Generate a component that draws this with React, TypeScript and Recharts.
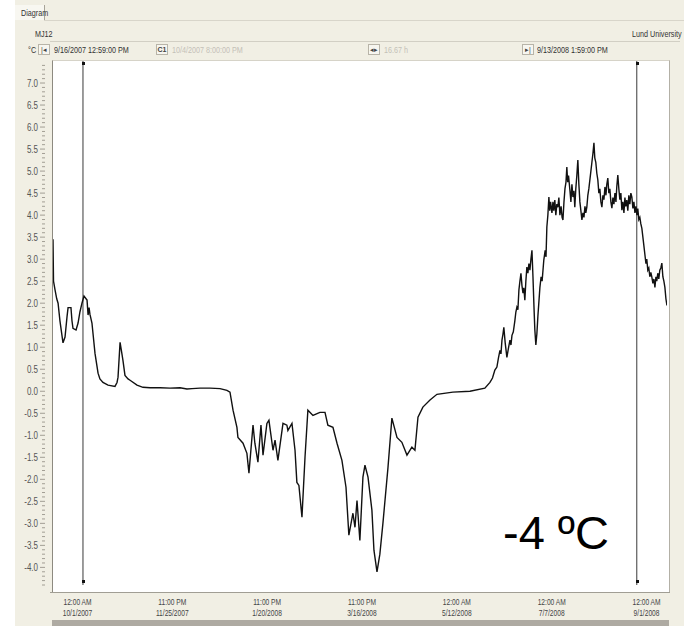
import { LineChart, Line, XAxis, YAxis, ReferenceLine } from 'recharts';

// days since 9/16/2007 12:59 PM
const days = [
  0, 0.3, 1.2, 2.2, 3.0, 4.1, 5.9, 7.1, 8.3, 8.9, 10.6, 11.2, 11.8, 13.6, 14.8, 15.9, 17.1, 18.3, 19.5, 20.1,
  20.7, 21.3, 21.8, 23.0, 24.8, 26.6, 27.7, 29.5, 32.5, 36.6, 37.8, 38.4, 39.6, 40.7, 41.3, 42.5, 44.3, 45.5, 49.6, 53.1,
  57.3, 63.2, 69.1, 75.0, 79.1, 82.1, 86.8, 92.7, 98.6, 102.7, 104.5, 106.3, 108.6, 109.2, 112.2, 114.5, 115.7, 118.1, 119.2, 121.0,
  122.8, 124.0, 126.3, 127.5, 129.9, 131.1, 132.8, 135.8, 138.1, 138.7, 141.1, 142.9, 144.0, 145.2, 147.0, 148.8, 150.5, 153.5, 157.6, 160.6,
  162.3, 165.3, 167.7, 170.6, 173.0, 174.7, 177.1, 178.3, 179.5, 181.2, 183.0, 184.2, 186.0, 188.3, 189.5, 191.3, 193.0, 194.8, 197.8, 200.1,
  203.1, 206.0, 209.0, 211.9, 213.7, 215.5, 218.4, 222.6, 226.7, 236.1, 246.2, 255.0, 258.0, 259.5, 260.9, 262.1, 263.0, 263.9, 264.5, 265.1,
  265.7, 266.2, 267.0, 268.0, 268.8, 269.8, 270.4, 271.0, 271.8, 272.7, 273.3, 273.9, 274.5, 275.1, 275.7, 276.3, 276.9, 277.5, 278.0, 278.6,
  279.2, 279.8, 280.4, 281.0, 281.6, 282.2, 282.8, 283.4, 284.0, 284.5, 285.1, 285.7, 286.3, 287.5, 288.2, 288.8, 289.8, 290.6, 291.1, 291.6,
  292.2, 292.8, 293.3, 293.8, 294.6, 295.2, 295.7, 296.3, 296.9, 297.5, 298.1, 298.7, 299.3, 300.0, 300.6, 301.1, 301.7, 302.3, 302.9, 303.4,
  303.9, 304.4, 305.2, 305.8, 306.4, 307.0, 307.6, 308.1, 308.7, 309.3, 309.9, 310.5, 311.1, 311.7, 312.3, 312.9, 313.5, 314.1, 314.6, 315.2,
  315.8, 316.4, 317.0, 317.6, 318.2, 318.8, 319.4, 319.9, 320.5, 321.1, 321.7, 322.3, 322.9, 323.5, 324.1, 324.7, 325.3, 325.9, 326.5, 327.0,
  327.6, 328.2, 328.8, 329.4, 330.0, 330.6, 331.2, 331.8, 332.4, 332.9, 333.5, 334.1, 334.7, 335.3, 335.9, 336.5, 337.1, 337.7, 338.2, 338.8,
  339.4, 340.0, 340.6, 341.2, 341.8, 342.4, 343.0, 343.6, 344.2, 344.8, 345.3, 345.9, 346.5, 347.1, 347.7, 348.3, 348.9, 349.5, 350.1, 350.6,
  351.2, 351.8, 352.4, 353.0, 353.6, 354.2, 354.8, 355.4, 356.0, 356.5, 357.1, 357.7, 358.3, 358.9, 359.5, 360.1, 360.7, 361.3, 361.9, 362.5,
];

// temperature, °C
const temps = [
  3.45, 2.5, 2.3, 2.1, 2.0, 1.6, 1.1, 1.23, 1.7, 1.9, 1.9, 1.6, 1.43, 1.39, 1.55, 1.8, 2.0, 2.16, 2.1, 2.07,
  1.73, 1.9, 1.75, 1.55, 0.86, 0.41, 0.28, 0.2, 0.14, 0.11, 0.2, 0.32, 1.11, 0.85, 0.7, 0.36, 0.28, 0.25, 0.14, 0.09,
  0.08, 0.08, 0.07, 0.08, 0.05, 0.06, 0.07, 0.07, 0.06, 0.02, -0.02, -0.43, -0.82, -1.05, -1.18, -1.41, -1.86, -0.77, -1.18, -1.61,
  -0.77, -1.45, -0.73, -0.66, -1.34, -1.11, -1.57, -0.73, -0.77, -0.89, -0.73, -1.34, -2.07, -2.14, -2.86, -1.5, -0.43, -0.55, -0.48, -0.48,
  -0.77, -0.82, -1.18, -1.57, -2.18, -3.27, -2.77, -3.09, -2.48, -3.39, -1.95, -1.68, -1.95, -2.7, -3.61, -4.1, -3.7, -3.0, -1.73, -0.61,
  -1.05, -1.16, -1.45, -1.27, -1.34, -0.59, -0.36, -0.2, -0.07, -0.02, 0.0, 0.07, 0.2, 0.3, 0.48, 0.55, 0.75, 0.93, 0.85, 1.16,
  1.3, 1.45, 1.1, 0.77, 0.95, 1.16, 1.05, 1.27, 1.35, 1.6, 1.8, 1.91, 1.85, 2.3, 2.5, 2.68, 2.4, 2.23, 2.35, 2.07,
  2.5, 2.82, 2.68, 2.9, 2.75, 3.0, 3.2, 2.6, 1.91, 1.4, 1.05, 1.3, 1.7, 2.36, 2.6, 2.5, 2.98, 3.2, 3.05, 3.73,
  4.0, 4.41, 4.1, 4.3, 4.05, 4.3, 4.1, 4.34, 4.0, 4.25, 4.18, 4.4, 4.0, 4.2, 3.95, 3.89, 4.3, 4.6, 4.75, 5.09,
  4.75, 4.9, 4.57, 4.3, 4.7, 4.41, 4.55, 4.18, 4.6, 4.9, 5.25, 4.7, 4.3, 4.1, 3.89, 4.05, 3.95, 4.2, 4.05, 4.18,
  4.45, 4.6, 4.8, 5.0, 5.2, 5.4, 5.64, 5.3, 5.2, 4.95, 4.8, 4.5, 4.6, 4.3, 4.18, 4.45, 4.35, 4.64, 4.45, 4.7,
  4.84, 4.5, 4.6, 4.3, 4.16, 4.4, 4.25, 4.5, 4.3, 4.65, 4.91, 4.6, 4.35, 4.5, 4.11, 4.3, 4.05, 4.4, 4.2, 4.34,
  4.1, 4.45, 4.25, 4.5, 4.41, 4.15, 4.3, 4.05, 4.2, 4.0, 4.15, 3.9, 3.95, 3.8, 3.7, 3.5, 3.3, 3.1, 2.9, 3.0,
  2.75, 2.8, 2.6, 2.7, 2.59, 2.45, 2.55, 2.36, 2.6, 2.5, 2.68, 2.55, 2.75, 2.8, 2.91, 2.6, 2.5, 2.36, 2.1, 1.95,
];

const tickDays = [14.46, 70.42, 126.42, 182.42, 238.46, 294.46, 350.46];
const tickTimes = ['12:00 AM', '11:00 PM', '11:00 PM', '11:00 PM', '12:00 AM', '12:00 AM', '12:00 AM'];
const tickDates = ['10/1/2007', '11/25/2007', '1/20/2008', '3/16/2008', '5/12/2008', '7/7/2008', '9/1/2008'];

// tenths of a degree, labelled every 0.5
const yTicks = Array.from({ length: 119 }, (_, i) => (i - 44) / 10);

const cursorDays = [17.7, 344.7];

const data = days.map((d, i) => ({ day: d, temp: temps[i] }));

const FONT = '"Liberation Sans", Arial, sans-serif';

const YTick = ({ x, y, payload }: any) => {
  const tenth = Math.round(payload.value * 10);
  const major = tenth % 5 === 0;
  return (
    <g>
      <line x1={x - (major ? 5 : 3)} x2={x} y1={y} y2={y} stroke="#a29e94" strokeWidth={1} />
      {major && (
        <g transform={`translate(${x - 7},${y + 3.5}) scale(0.8,1)`}>
          <text x={0} y={0} textAnchor="end" fontSize={10} fill="#555" fontFamily={FONT}>
            {(tenth / 10).toFixed(1)}
          </text>
        </g>
      )}
    </g>
  );
};

const XTick = ({ x, index }: any) => (
  <g transform={`translate(${x},0) scale(0.7,1)`}>
    <text x={0} y={605} textAnchor="middle" fontSize={9.5} fill="#444" fontFamily={FONT}>
      {tickTimes[index]}
    </text>
    <text x={0} y={616} textAnchor="middle" fontSize={9.5} fill="#444" fontFamily={FONT}>
      {tickDates[index]}
    </text>
  </g>
);

const Label = ({ left, top, color = '#333', bold = false, children }: any) => (
  <div
    style={{
      position: 'absolute', left, top, fontSize: 9, fontFamily: FONT, color, whiteSpace: 'nowrap',
      fontWeight: bold ? 'bold' : 'normal', transform: 'scaleX(0.8)', transformOrigin: 'left top', lineHeight: '10px',
    }}
  >
    {children}
  </div>
);

const Btn = ({ left, children }: any) => (
  <div
    style={{
      position: 'absolute', left, top: 44, width: 10, height: 9, border: '1px solid #b8b4a8', background: '#f7f6f0',
      fontSize: 7, lineHeight: '9px', textAlign: 'center', fontFamily: FONT, color: '#444',
    }}
  >
    {children}
  </div>
);

export default function App() {
  return (
    <div style={{ position: 'absolute', left: 0, top: 0, width: 693, height: 626, background: '#fff', overflow: 'hidden' }}>
      {/* window panel */}
      <div style={{ position: 'absolute', left: 15, top: 0, width: 669, height: 626, background: '#f1efe4' }} />
      {/* tab */}
      <div style={{ position: 'absolute', left: 15, top: 5, width: 29, height: 15, borderRight: '1px solid #a7a397', background: '#f8f7f1' }} />
      <Label left={21} top={8}>Diagram</Label>
      <div style={{ position: 'absolute', left: 44, top: 20, width: 640, height: 1, background: '#d8d5ca' }} />
      {/* header */}
      <Label left={35} top={29}>MJ12</Label>
      <Label left={632} top={29}>Lund University</Label>
      <div style={{ position: 'absolute', left: 50, top: 41, width: 630, height: 1, background: '#d2cfc4' }} />
      <Label left={28} top={45}>°C</Label>
      <Btn left={38}>|◂</Btn>
      <Label left={54} top={45}>9/16/2007 12:59:00 PM</Label>
      <Btn left={156}><b>C1</b></Btn>
      <Label left={172} top={45} color="#c4c1b8">10/4/2007 8:00:00 PM</Label>
      <Btn left={368}>◂▸</Btn>
      <Label left={384} top={45} color="#c4c1b8">16.67 h</Label>
      <Btn left={522}>▸|</Btn>
      <Label left={537} top={45}>9/13/2008 1:59:00 PM</Label>
      {/* plot frame */}
      <div style={{ position: 'absolute', left: 52, top: 60, width: 616, height: 532, background: '#fff', borderLeft: '1px solid #8d8a80', borderRight: '1px solid #b3b0a6', borderTop: '1px solid #d6d3c8' }} />
      <div style={{ position: 'absolute', left: 50, top: 592, width: 620, height: 1, background: '#a19e94' }} />
      <div style={{ position: 'absolute', left: 52, top: 620, width: 617, height: 6, background: '#aeaaa2' }} />

      <div style={{ position: 'absolute', left: 0, top: 0 }}>
        <LineChart width={693} height={626} data={data} margin={{ top: 61, right: 26, left: 15, bottom: 6 }}>
          <XAxis
            dataKey="day"
            type="number"
            domain={[0, 362.54]}
            ticks={tickDays}
            tick={<XTick />}
            tickLine={false}
            axisLine={false}
            height={35}
            allowDataOverflow
          />
          <YAxis
            type="number"
            domain={[-4.4, 7.5]}
            ticks={yTicks}
            interval={0}
            tick={<YTick />}
            tickLine={false}
            axisLine={false}
            width={38}
            allowDataOverflow
          />
          {cursorDays.map((d) => (
            <ReferenceLine key={d} x={d} stroke="#3a3a3a" strokeWidth={1} />
          ))}
          <Line
            type="linear"
            dataKey="temp"
            stroke="#111"
            strokeWidth={1.4}
            dot={false}
            isAnimationActive={false}
          />
        </LineChart>
      </div>

      {/* cursor end markers */}
      {[83, 637].map((x) => (
        <div key={x}>
          <div style={{ position: 'absolute', left: x - 1, top: 62, width: 3, height: 3, background: '#111' }} />
          <div style={{ position: 'absolute', left: x - 1, top: 580, width: 3, height: 3, background: '#111' }} />
        </div>
      ))}

      <div style={{ position: 'absolute', left: 503, top: 505, fontSize: 47, lineHeight: 'normal', fontFamily: '"Liberation Sans", Arial, sans-serif', color: '#000', whiteSpace: 'nowrap' }}>
        -4 ºC
      </div>
    </div>
  );
}
